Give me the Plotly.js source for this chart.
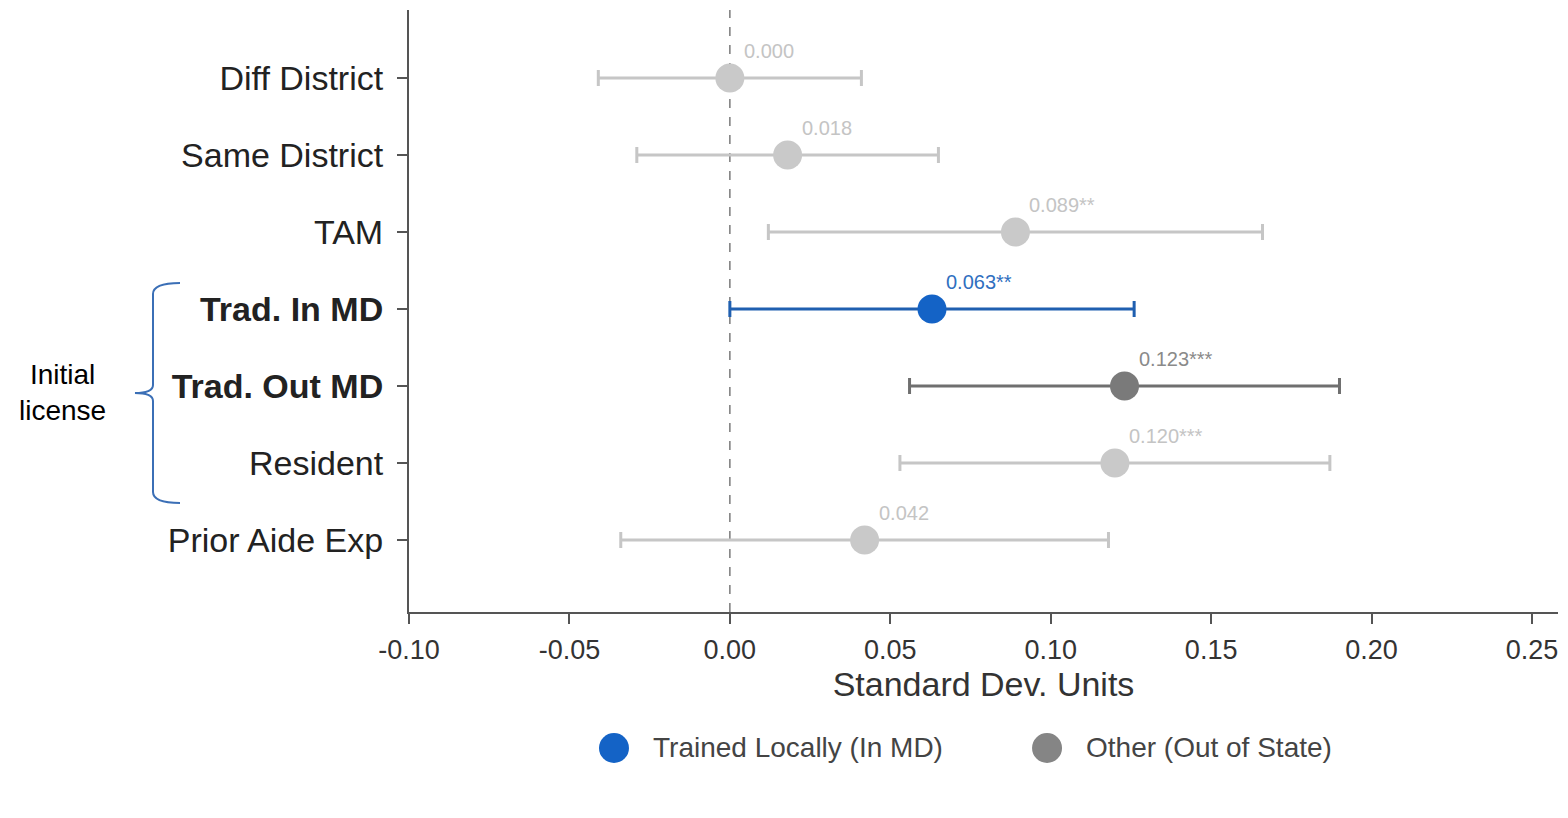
<!DOCTYPE html>
<html>
<head>
<meta charset="utf-8">
<script src="https://cdn.plot.ly/plotly-3.0.1.min.js"></script>
<style>html,body{margin:0;padding:0;background:#fff;}</style>
</head>
<body>
<div id="chart" style="width:1568px;height:818px;"></div>
<script>
// ---- data ----
const categories = ["Diff District", "Same District", "TAM", "Trad. In MD", "Trad. Out MD", "Resident", "Prior Aide Exp"];
const estimates  = [0.000, 0.018, 0.089, 0.063, 0.123, 0.120, 0.042];
const ciLow      = [-0.041, -0.029, 0.012, 0.000, 0.056, 0.053, -0.034];
const ciHigh     = [0.041, 0.065, 0.166, 0.126, 0.190, 0.187, 0.118];
const valueLabels = ["0.000", "0.018", "0.089**", "0.063**", "0.123***", "0.120***", "0.042"];
const groups     = ["base", "base", "base", "local", "out", "base", "base"];
const boldCats   = ["Trad. In MD", "Trad. Out MD"];
const xTickVals  = [-0.10, -0.05, 0.00, 0.05, 0.10, 0.15, 0.20, 0.25];
const xTickText  = ["-0.10", "-0.05", "0.00", "0.05", "0.10", "0.15", "0.20", "0.25"];
const legendNames = ["Trained Locally (In MD)", "Other (Out of State)"];

// ---- styles ----
const styleOf = {
  base:  {marker: "#c9c9c9", line: "#c6c6c6", text: "#c4c4c4"},
  local: {marker: "#1463c6", line: "#1f5fb0", text: "#2f6fc0"},
  out:   {marker: "#7a7a7a", line: "#6f6f6f", text: "#8a8a8a"}
};
const FONT = "Liberation Sans, Arial, Helvetica, sans-serif";

const traces = categories.map((c, i) => {
  const s = styleOf[groups[i]];
  return {
    type: "scatter", mode: "markers",
    x: [estimates[i]], y: [c],
    marker: {size: 29, color: s.marker, line: {width: 0}},
    error_x: {type: "data", symmetric: false,
      array: [ciHigh[i] - estimates[i]], arrayminus: [estimates[i] - ciLow[i]],
      color: s.line, thickness: 3, width: 8},
    showlegend: false, hoverinfo: "x+y"
  };
});

const annotations = categories.map((c, i) => ({
  x: estimates[i], y: c, xref: "x", yref: "y",
  text: valueLabels[i], showarrow: false,
  xanchor: "left", yanchor: "middle", xshift: 12, yshift: 27,
  font: {family: FONT, size: 20, color: styleOf[groups[i]].text}
}));

// group label
annotations.push({
  x: -0.302, y: 0.364, xref: "paper", yref: "paper",
  text: "Initial<br>license", showarrow: false, align: "center",
  xanchor: "center", yanchor: "middle",
  font: {family: FONT, size: 28, color: "#000"}
});

// custom legend
const legendColors = [styleOf.local.marker, "#858585"];
const legendX = [0.1784, 0.5553];
const legendTextX = [0.2106, 0.5875];
const legendY = -0.2259;
const shapes = [];
legendNames.forEach((n, k) => {
  shapes.push({type: "circle", xref: "paper", yref: "paper",
    xsizemode: "pixel", ysizemode: "pixel",
    xanchor: legendX[k], yanchor: legendY,
    x0: -15, x1: 15, y0: -15, y1: 15,
    fillcolor: legendColors[k], line: {width: 0}});
  annotations.push({x: legendTextX[k], y: legendY, xref: "paper", yref: "paper",
    text: n, showarrow: false, xanchor: "left", yanchor: "middle",
    font: {family: FONT, size: 28, color: "#444"}});
});

// zero reference line
shapes.push({type: "line", xref: "x", yref: "paper", x0: 0, x1: 0, y0: 0, y1: 1,
  line: {color: "#7a7a7a", width: 1.5, dash: "dash"}, layer: "below"});

// brace
shapes.push({type: "path", xref: "paper", yref: "paper",
  path: "M -0.1993,0.5465 Q -0.2228,0.5465 -0.2228,0.5282 L -0.2228,0.3771 Q -0.2228,0.3638 -0.2385,0.3638 Q -0.2228,0.3638 -0.2228,0.3505 L -0.2228,0.1993 Q -0.2228,0.1811 -0.1993,0.1811",
  line: {color: "#3b6fb6", width: 2}});

const layout = {
  width: 1568, height: 818,
  margin: {l: 409, r: 10, t: 10, b: 206},
  paper_bgcolor: "#fff", plot_bgcolor: "#fff",
  font: {family: FONT, color: "#333"},
  showlegend: false,
  xaxis: {
    range: [-0.1, 0.2581], tickmode: "array", tickvals: xTickVals, ticktext: xTickText,
    showgrid: false, zeroline: false, showline: true, linecolor: "#555", linewidth: 2,
    ticks: "outside", ticklen: 10, tickwidth: 2, tickcolor: "#555",
    tickfont: {family: FONT, size: 27, color: "#333"}, ticklabelstandoff: 3,
    title: {text: "Standard Dev. Units", font: {family: FONT, size: 34, color: "#333"}, standoff: 2}
  },
  yaxis: {
    type: "category", range: [6.935, -0.883],
    tickmode: "array", tickvals: categories,
    ticktext: categories.map(c => boldCats.includes(c) ? "<b>" + c + "</b>" : c),
    showgrid: false, zeroline: false, showline: true, linecolor: "#555", linewidth: 2,
    ticks: "outside", ticklen: 10, tickwidth: 2, tickcolor: "#555",
    tickfont: {family: FONT, size: 34, color: "#222"}, ticklabelstandoff: 7
  },
  annotations: annotations,
  shapes: shapes
};

Plotly.newPlot("chart", traces, layout, {displayModeBar: false, staticPlot: true});
</script>
</body>
</html>
